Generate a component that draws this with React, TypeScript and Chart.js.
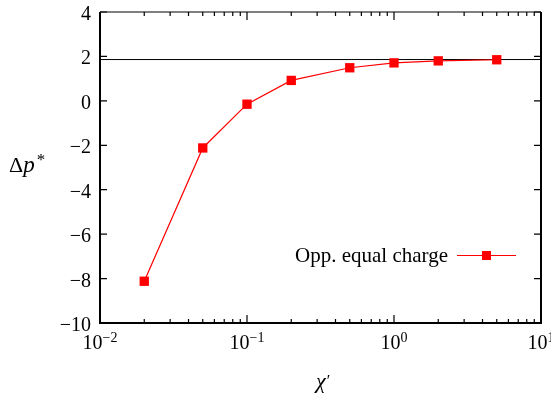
import { useEffect, useRef } from "react";
import { Chart, registerables } from "chart.js";

Chart.register(...registerables);

// ---- data ----
const chiValues = [0.02, 0.05, 0.1, 0.2, 0.5, 1, 2, 5];
const deltaP = [-8.12, -2.12, -0.15, 0.92, 1.49, 1.71, 1.8, 1.85];
const seriesLabel = "Opp. equal charge";
const refLineX = [0.01, 10];
const refLineY = [1.86, 1.86];
const yTickValues = [-10, -8, -6, -4, -2, 0, 2, 4];
const xDecadeExponents = [-2, -1, 0, 1];

const FONT = "'Liberation Serif', 'Times New Roman', serif";

const framePlugin = {
  id: "gnuplotFrame",
  afterDraw(chart: any) {
    const ctx: CanvasRenderingContext2D = chart.ctx;
    const { left, right, top, bottom } = chart.chartArea;
    const xs = chart.scales.x;
    const ys = chart.scales.y;
    ctx.save();
    ctx.strokeStyle = "#000";
    ctx.fillStyle = "#000";

    // frame
    ctx.lineWidth = 2;
    ctx.beginPath();
    ctx.moveTo(left, top);
    ctx.lineTo(left, bottom);
    ctx.lineTo(right, bottom);
    ctx.lineTo(right, top);
    ctx.stroke();
    ctx.lineWidth = 1.2;
    ctx.beginPath();
    ctx.moveTo(left, top);
    ctx.lineTo(right, top);
    ctx.stroke();

    // y ticks + labels
    ctx.lineWidth = 1.2;
    ctx.font = `20px ${FONT}`;
    ctx.textAlign = "right";
    ctx.textBaseline = "alphabetic";
    for (const v of yTickValues) {
      const y = ys.getPixelForValue(v);
      ctx.beginPath();
      ctx.moveTo(left, y);
      ctx.lineTo(left + 7, y);
      ctx.moveTo(right, y);
      ctx.lineTo(right - 7, y);
      ctx.stroke();
      const txt = v < 0 ? "\u2212" + Math.abs(v) : String(v);
      ctx.fillText(txt, left - 9, y + 8);
    }

    // x ticks (major + minor) + labels
    for (const e of xDecadeExponents) {
      const base = Math.pow(10, e);
      const x = xs.getPixelForValue(base);
      ctx.beginPath();
      ctx.moveTo(x, bottom);
      ctx.lineTo(x, bottom - 8);
      ctx.moveTo(x, top);
      ctx.lineTo(x, top + 8);
      ctx.stroke();
      if (e < 1) {
        for (let k = 2; k <= 9; k++) {
          const xm = xs.getPixelForValue(base * k);
          ctx.beginPath();
          ctx.moveTo(xm, bottom);
          ctx.lineTo(xm, bottom - 4);
          ctx.moveTo(xm, top);
          ctx.lineTo(xm, top + 4);
          ctx.stroke();
        }
      }
      // label 10^e
      const baseTxt = "10";
      const expTxt = e < 0 ? "\u2212" + Math.abs(e) : String(e);
      ctx.font = `20px ${FONT}`;
      const w1 = ctx.measureText(baseTxt).width;
      ctx.font = `14px ${FONT}`;
      const w2 = ctx.measureText(expTxt).width;
      const x0 = x - (w1 + w2) / 2;
      ctx.textAlign = "left";
      ctx.font = `20px ${FONT}`;
      ctx.fillText(baseTxt, x0, bottom + 26);
      ctx.font = `14px ${FONT}`;
      ctx.fillText(expTxt, x0 + w1, bottom + 19);
    }

    // y-axis title: Δp*
    ctx.textAlign = "left";
    ctx.font = `22px ${FONT}`;
    let tx = 9;
    ctx.fillText("\u0394", tx, 172);
    tx += ctx.measureText("\u0394").width;
    ctx.font = `italic 23px ${FONT}`;
    ctx.fillText("p", tx, 172);
    tx += ctx.measureText("p").width + 2;
    ctx.font = `17px ${FONT}`;
    ctx.fillText("*", tx, 165);

    // x-axis title: χ′
    ctx.font = `italic 22px ${FONT}`;
    ctx.fillText("\u03C7", 316, 388);
    const cw = ctx.measureText("\u03C7").width;
    ctx.font = `16px ${FONT}`;
    ctx.fillText("\u2032", 316 + cw + 1, 386);

    // legend
    const ds = chart.data.datasets[0];
    const ly = 255.5;
    ctx.font = `21px ${FONT}`;
    ctx.textAlign = "right";
    ctx.fillText(ds.label, 448, ly + 6);
    ctx.strokeStyle = ds.borderColor;
    ctx.lineWidth = ds.borderWidth;
    ctx.beginPath();
    ctx.moveTo(457, ly);
    ctx.lineTo(516, ly);
    ctx.stroke();
    ctx.fillStyle = ds.pointBackgroundColor;
    ctx.fillRect(486.5 - 4.5, ly - 4.5, 9, 9);

    ctx.restore();
  },
};

export default function App() {
  const ref = useRef<HTMLCanvasElement>(null);
  useEffect(() => {
    if (!ref.current) return;
    const chart = new Chart(ref.current, {
      type: "line",
      data: {
        datasets: [
          {
            label: seriesLabel,
            data: chiValues.map((x, i) => ({ x, y: deltaP[i] })),
            borderColor: "#ff0000",
            borderWidth: 1.2,
            pointStyle: "rect",
            pointRadius: 6.6,
            pointBorderWidth: 0,
            pointBackgroundColor: "#ff0000",
            pointBorderColor: "#ff0000",
            tension: 0,
          },
          {
            label: "ref",
            data: refLineX.map((x, i) => ({ x, y: refLineY[i] })),
            borderColor: "#000",
            borderWidth: 1,
            pointRadius: 0,
            tension: 0,
          },
        ],
      },
      options: {
        responsive: false,
        animation: false,
        layout: { padding: { left: 100, top: 12, right: 10, bottom: 74 } },
        plugins: { legend: { display: false }, tooltip: { enabled: false } },
        scales: {
          x: { type: "logarithmic", min: 0.01, max: 10, display: false },
          y: { type: "linear", min: -10, max: 4, display: false },
        },
      },
      plugins: [framePlugin],
    });
    return () => chart.destroy();
  }, []);
  return (
    <div style={{ position: "fixed", left: 0, top: 0, width: 551, height: 397, background: "#fff" }}>
      <canvas ref={ref} width={551} height={397} />
    </div>
  );
}
